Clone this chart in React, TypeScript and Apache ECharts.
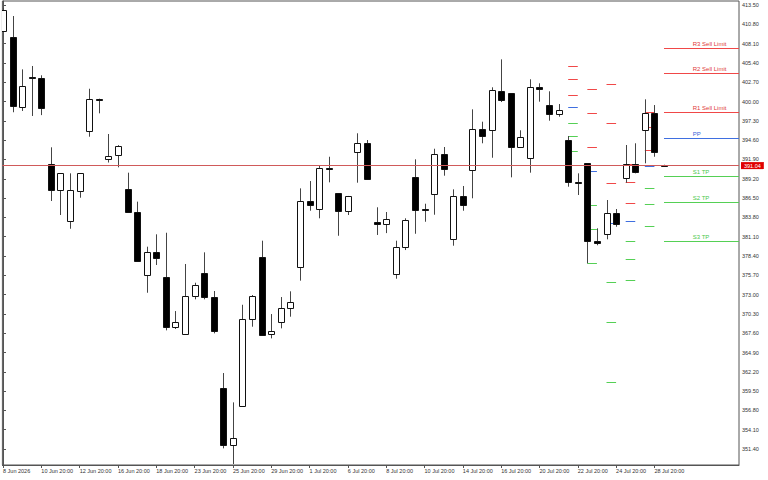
import React, { useEffect, useRef } from "react";
import * as echarts from "echarts";

// X axis tick positions (bar indices) and their labels
const xTickBars = [0, 4, 8, 12, 16, 20, 24, 28, 32, 36, 40, 44, 48, 52, 56, 60, 64, 68];
const xTickLabels = [
  "8 Jun 2026", "10 Jun 20:00", "12 Jun 20:00", "16 Jun 20:00", "18 Jun 20:00",
  "23 Jun 20:00", "25 Jun 20:00", "29 Jun 20:00", "1 Jul 20:00", "6 Jul 20:00",
  "8 Jul 20:00", "10 Jul 20:00", "14 Jul 20:00", "16 Jul 20:00", "20 Jul 20:00",
  "22 Jul 20:00", "24 Jul 20:00", "28 Jul 20:00",
];

// Price scale tick labels
const priceTicks = [
  351.4, 354.1, 356.8, 359.5, 362.2, 364.9, 367.6, 370.3, 373.0, 375.7, 378.4, 381.1,
  383.8, 386.5, 389.2, 391.9, 394.6, 397.3, 400.0, 402.7, 405.4, 408.1, 410.8, 413.5,
];

// OHLC per bar
const opens = [
  409.9, 408.98, 399.28, 403.4, 403.29, 391.22, 387.63, 383.29, 387.53, 395.88,
  400.35, 391.96, 392.52, 387.77, 384.59, 375.74, 378.91, 375.5, 368.42, 367.53,
  372.84, 375.97, 372.66, 359.98, 351.92, 357.42, 369.63, 378.3, 367.44, 369.21,
  371.08, 376.82, 386.13, 384.97, 390.7, 387.17, 384.73, 392.98, 394.24, 383.15,
  382.83, 375.88, 379.7, 389.49, 384.95, 387.07, 392.62, 380.77, 386.83, 390.42,
  396.12, 395.97, 401.51, 401.15, 393.6, 392.06, 401.99, 399.51, 398.3, 394.62,
  388.8, 391.36, 380.45, 381.51, 384.37, 389.26, 391.22, 396.02, 398.44, 391.1,
];
const highs = [
  413.1, 411.96, 404.5, 404.97, 403.67, 393.6, 390.0, 389.96, 390.0, 401.79,
  400.4, 395.46, 393.9, 390.05, 386.0, 379.7, 381.43, 381.65, 370.7, 377.28,
  374.66, 378.91, 373.5, 362.03, 357.93, 371.58, 372.94, 380.54, 370.28, 372.66,
  373.46, 387.86, 388.88, 391.12, 392.28, 387.2, 386.8, 395.56, 394.62, 385.21,
  384.55, 380.54, 383.67, 391.92, 385.71, 393.4, 393.64, 387.72, 388.19, 398.91,
  397.18, 401.99, 405.9, 401.19, 395.98, 403.11, 402.55, 401.43, 399.65, 395.18,
  389.96, 391.4, 382.27, 386.23, 384.97, 393.92, 394.16, 400.31, 399.51, 391.16,
];
const lows = [
  409.9, 398.5, 398.68, 397.98, 398.1, 386.09, 384.13, 382.21, 386.55, 395.08,
  398.35, 391.47, 390.8, 384.45, 377.6, 373.26, 377.14, 368.0, 368.19, 367.5,
  372.34, 372.34, 367.58, 351.5, 349.3, 357.35, 368.51, 367.35, 366.88, 368.28,
  369.91, 374.95, 384.73, 383.67, 388.7, 381.23, 384.13, 388.65, 389.1, 381.34,
  381.6, 375.22, 379.23, 381.51, 383.19, 384.17, 389.63, 379.84, 384.73, 386.47,
  394.16, 392.14, 399.93, 389.4, 393.57, 390.05, 399.98, 397.32, 397.88, 388.09,
  386.93, 377.37, 379.9, 380.73, 382.49, 388.65, 389.96, 391.36, 392.28, 391.0,
];
const closes = [
  412.8, 399.37, 402.17, 403.3, 399.14, 387.63, 389.96, 387.58, 389.96, 400.31,
  400.25, 392.38, 393.78, 384.55, 377.74, 378.91, 378.07, 368.47, 369.12, 372.8,
  374.3, 372.62, 367.9, 351.92, 352.9, 369.63, 372.84, 367.4, 367.86, 371.08,
  371.92, 386.13, 385.57, 390.66, 390.62, 384.73, 386.79, 394.24, 389.12, 382.83,
  383.53, 379.7, 383.39, 384.79, 384.9, 392.62, 390.52, 386.83, 385.5, 396.12,
  395.18, 401.57, 400.26, 393.64, 395.0, 401.99, 401.75, 398.3, 398.77, 388.7,
  388.72, 380.45, 380.17, 384.37, 382.83, 391.22, 390.1, 398.44, 392.98, 391.04,
];

// Pivot levels per period (segment start/end bars)
const pivotStartBars = [59, 61, 63, 65, 67, 69];
const pivotEndBars = [60, 62, 64, 66, 68, 76.83];
const r3Levels = [404.97, 401.75, 402.45, 391.26, 398.58, 407.44];
const r2Levels = [403.19, 398.44, 396.95, 388.7, 396.4, 403.95];
const r1Levels = [400.95, 393.6, 388.56, 385.85, 393.22, 398.49];
const ppLevels = [399.19, 390.24, 382.97, 383.33, 391.05, 394.86];
const s1Levels = [396.95, 385.53, 374.72, 380.45, 387.95, 389.54];
const s2Levels = [395.22, 382.24, 369.12, 377.93, 385.63, 385.91];
const s3Levels = [393.04, 377.37, 360.73, 375.08, 382.55, 380.45];
const pivotNames = ["R3 Sell Limit", "R2 Sell Limit", "R1 Sell Limit", "PP", "S1 TP", "S2 TP", "S3 TP"];
const currentPrice = 391.04;

const X_MIN = -0.063;
const X_MAX = 76.83;
const LABEL_BAR = 72;

const levelColor = (k: number) => (k < 3 ? "#f04848" : k === 3 ? "#3f6fe0" : "#55d055");
const labelColor = (k: number) => (k < 3 ? "#e03a3a" : k === 3 ? "#3a62d8" : "#4cc84c");

export default function App() {
  const ref = useRef<HTMLDivElement>(null);

  useEffect(() => {
    if (!ref.current) return;
    const chart = echarts.init(ref.current, undefined, { renderer: "svg" });

    const candleData = opens.map((o, i) => [i, o, closes[i], lows[i], highs[i]]);
    const levels = [r3Levels, r2Levels, r1Levels, ppLevels, s1Levels, s2Levels, s3Levels];
    const pivotData: number[][] = [];
    pivotStartBars.forEach((s, g) => {
      levels.forEach((arr, k) => {
        pivotData.push([s, pivotEndBars[g], arr[g], k, g === pivotStartBars.length - 1 ? 1 : 0]);
      });
    });

    const axisColor = "#555";
    const labelTxt = "#333";

    chart.setOption({
      animation: false,
      backgroundColor: "#fff",
      textStyle: { fontFamily: "Liberation Sans" },
      grid: {
        left: 1,
        right: 29,
        top: 1,
        bottom: 15,
        show: true,
        borderColor: axisColor,
        borderWidth: 1,
        backgroundColor: "#fff",
      },
      xAxis: {
        type: "value",
        min: X_MIN,
        max: X_MAX,
        axisLine: { show: true, lineStyle: { color: axisColor } },
        axisTick: { show: true, customValues: xTickBars, length: 3, lineStyle: { color: axisColor } },
        axisLabel: {
          customValues: xTickBars,
          formatter: (v: number) => xTickLabels[xTickBars.indexOf(Math.round(v))] ?? "",
          align: "left",
          fontSize: 5.5,
          margin: 3,
          color: labelTxt,
        },
        splitLine: { show: false },
      },
      yAxis: {
        type: "value",
        position: "right",
        min: 349.17,
        max: 414.06,
        axisLine: { show: true, lineStyle: { color: axisColor } },
        axisTick: { show: true, customValues: priceTicks, length: 3, lineStyle: { color: axisColor } },
        axisLabel: {
          customValues: priceTicks,
          formatter: (v: number) => v.toFixed(2),
          fontSize: 5.5,
          margin: 3,
          color: labelTxt,
        },
        splitLine: { show: false },
      },
      series: [
        {
          type: "custom",
          name: "pivots",
          clip: true,
          data: pivotData,
          renderItem: (params: any, api: any) => {
            const s = api.value(0);
            const e = api.value(1);
            const v = api.value(2);
            const k = api.value(3);
            const last = api.value(4);
            const p1 = api.coord([s, v]);
            const p2 = api.coord([e, v]);
            const y = Math.round(p1[1]) + 0.5;
            const children: any[] = [
              {
                type: "line",
                shape: { x1: p1[0], y1: y, x2: p2[0], y2: y },
                style: { stroke: levelColor(k), lineWidth: 1 },
              },
            ];
            if (last) {
              const pl = api.coord([LABEL_BAR, v]);
              children.push({
                type: "text",
                x: pl[0],
                y: y - 1.5,
                style: {
                  text: pivotNames[k],
                  fill: labelColor(k),
                  fontSize: 6,
                  fontFamily: "Liberation Sans",
                  align: "left",
                  verticalAlign: "bottom",
                },
              });
            }
            return { type: "group", children };
          },
          z: 2,
        },
        {
          type: "custom",
          name: "candles",
          clip: true,
          data: candleData,
          renderItem: (params: any, api: any) => {
            const i = api.value(0);
            const o = api.value(1);
            const c = api.value(2);
            const l = api.value(3);
            const h = api.value(4);
            const pO = api.coord([i, o]);
            const pC = api.coord([i, c]);
            const pL = api.coord([i, l]);
            const pH = api.coord([i, h]);
            const cx = Math.round(pO[0]) + 0.5;
            const bull = c > o;
            const top = Math.round(Math.min(pO[1], pC[1])) + 0.5;
            const bot = Math.round(Math.max(pO[1], pC[1])) + 0.5;
            const bodyH = Math.max(bot - top, 1);
            return {
              type: "group",
              children: [
                {
                  type: "line",
                  shape: { x1: cx, y1: pH[1], x2: cx, y2: pL[1] },
                  style: { stroke: "#444", lineWidth: 1 },
                },
                {
                  type: "rect",
                  shape: { x: cx - 3, y: top, width: 6, height: bodyH },
                  style: { fill: bull ? "#fff" : "#000", stroke: "#111", lineWidth: 1 },
                },
              ],
            };
          },
          markLine: {
            silent: true,
            symbol: ["none", "none"],
            data: [{ yAxis: currentPrice }],
            lineStyle: { color: "#d05a5a", width: 1, type: "solid" },
            label: {
              show: true,
              position: "end",
              formatter: currentPrice.toFixed(2),
              color: "#fff",
              backgroundColor: "#e00000",
              fontSize: 5.5,
              padding: [1, 3, 0, 3],
              distance: 2,
            },
          },
          z: 3,
        },
      ],
    });

    return () => chart.dispose();
  }, []);

  return (
    <div
      ref={ref}
      style={{ position: "absolute", left: 0, top: 0, width: 768, height: 480 }}
    />
  );
}
